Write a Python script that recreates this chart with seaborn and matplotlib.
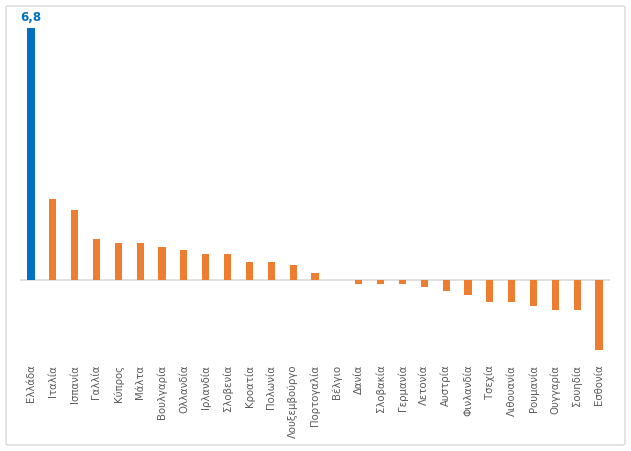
import matplotlib
matplotlib.use("Agg")
import matplotlib.pyplot as plt
import seaborn as sns
import pandas as pd
from matplotlib.patches import FancyBboxPatch

# Χώρες και τιμές (διαβασμένες από το γράφημα)
countries = ["Ελλάδα", "Ιταλία", "Ισπανία", "Γαλλία", "Κύπρος", "Μάλτα",
             "Βουλγαρία", "Ολλανδία", "Ιρλανδία", "Σλοβενία", "Κροατία",
             "Πολωνία", "Λουξεμβούργο", "Πορτογαλία", "Βέλγιο", "Δανία",
             "Σλοβακία", "Γερμανία", "Λετονία", "Αυστρία", "Φινλανδία",
             "Τσεχία", "Λιθουανία", "Ρουμανία", "Ουγγαρία", "Σουηδία",
             "Εσθονία"]
values = [6.8, 2.2, 1.9, 1.1, 1.0, 1.0,
          0.9, 0.8, 0.7, 0.7, 0.5,
          0.5, 0.4, 0.2, 0.0, -0.1,
          -0.1, -0.1, -0.2, -0.3, -0.4,
          -0.6, -0.6, -0.7, -0.8, -0.8,
          -1.9]
highlight = "Ελλάδα"

blue = "#0070C0"
orange = "#ED7D31"
palette = {c: (blue if c == highlight else orange) for c in countries}

df = pd.DataFrame({"country": countries, "value": values})

sns.set_style("white")
plt.rcParams["font.family"] = ["DejaVu Sans"]

fig = plt.figure(figsize=(6.31, 4.52), dpi=100)
ax = fig.add_axes([20 / 631, 1 - 355 / 452, 590 / 631, 333 / 452])

ax.axhline(0, color="#D9D9D9", lw=1.2, zorder=0)
sns.barplot(data=df, x="country", y="value", hue="country", palette=palette,
            width=0.33, legend=False, ax=ax, saturation=1, linewidth=0)

ax.set_ylim(-2.0, 7.0)
ax.set_xlim(-0.5, len(countries) - 0.5)
for s in ax.spines.values():
    s.set_visible(False)
ax.set_yticks([])
ax.set_xlabel("")
ax.set_ylabel("")
ax.tick_params(axis="x", length=0, pad=7, labelsize=7.3, labelcolor="#595959")
plt.setp(ax.get_xticklabels(), rotation=90, va="top", ha="center")

# Ετικέτα μόνο για την Ελλάδα
idx = countries.index(highlight)
ax.text(idx, values[idx] + 0.15, "6,8", color=blue, fontsize=8.5,
        fontweight="bold", ha="center", va="bottom")

# Πλαίσιο γύρω από το γράφημα
border = FancyBboxPatch((6 / 631, 1 - 446 / 452), 619 / 631, 439 / 452,
                        boxstyle="round,pad=0,rounding_size=0.004",
                        transform=fig.transFigure, fill=False,
                        edgecolor="#D9D9D9", lw=1)
fig.patches.append(border)

fig.savefig("out.png", dpi=100)
